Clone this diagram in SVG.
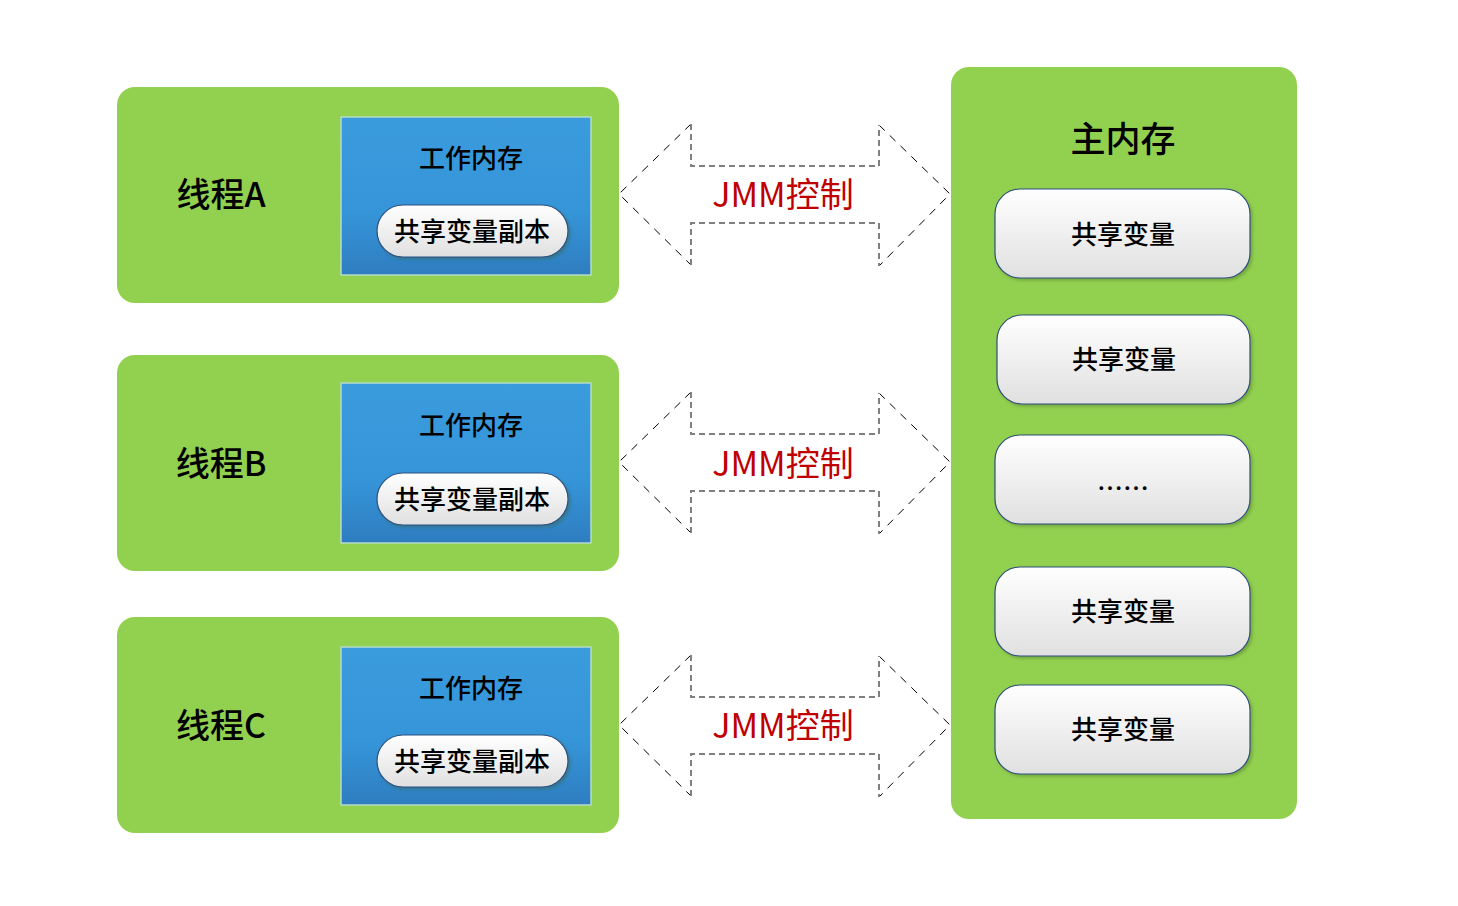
<svg xmlns="http://www.w3.org/2000/svg" width="1458" height="906" viewBox="0 0 1458 906">
<style>
.green{fill:#92D050;}
.blue{fill:url(#gBlue);stroke:#B4DCC8;stroke-width:1.5;}
.pill{fill:url(#gWhite);stroke:#2F4F7F;stroke-width:1.2;filter:url(#sh);}
.t{font-family:"Noto Sans CJK SC","Noto Sans",sans-serif;fill:#000;text-anchor:middle;dominant-baseline:central;}
.thr{font-size:34px;font-weight:500;}
.wm{font-size:26px;font-weight:500;}
.cp{font-size:26px;font-weight:500;}
.sv{font-size:26px;font-weight:500;}
.jmm{font-family:"Noto Sans CJK SC","Noto Sans",sans-serif;font-size:34px;fill:#C00000;text-anchor:middle;dominant-baseline:central;}
.shaft{fill:none;stroke:#808080;stroke-width:2;stroke-dasharray:6,4;}
.head{fill:none;stroke:#000;stroke-width:1;stroke-dasharray:8,7;}
</style>
<defs>
<linearGradient id="gBlue" x1="0" y1="0" x2="0" y2="1">
<stop offset="0" stop-color="#3A9BDD"/>
<stop offset="0.6" stop-color="#3595D8"/>
<stop offset="1" stop-color="#2E7DC0"/>
</linearGradient>
<linearGradient id="gWhite" x1="0" y1="0" x2="0" y2="1">
<stop offset="0" stop-color="#FFFFFF"/>
<stop offset="1" stop-color="#E0E0E0"/>
</linearGradient>
<filter id="sh" x="-10%" y="-10%" width="125%" height="135%">
<feDropShadow dx="2" dy="2" stdDeviation="1.5" flood-color="#3A5A20" flood-opacity="0.35"/>
</filter>
</defs>

<g id="threadA">
<rect class="green" x="117" y="87" width="502" height="216" rx="18"/>
<text class="t thr" x="221" y="192">线程A</text>
<rect class="blue" x="341" y="117" width="250" height="158"/>
<text class="t wm" x="471" y="156">工作内存</text>
<rect class="pill" x="377" y="205" width="191" height="52" rx="26"/>
<text class="t cp" x="472" y="229">共享变量副本</text>
</g>

<g id="threadB">
<rect class="green" x="117" y="355" width="502" height="216" rx="18"/>
<text class="t thr" x="221" y="461">线程B</text>
<rect class="blue" x="341" y="383" width="250" height="160"/>
<text class="t wm" x="471" y="423">工作内存</text>
<rect class="pill" x="377" y="473" width="191" height="52" rx="26"/>
<text class="t cp" x="472" y="497">共享变量副本</text>
</g>

<g id="threadC">
<rect class="green" x="117" y="617" width="502" height="216" rx="18"/>
<text class="t thr" x="221" y="723">线程C</text>
<rect class="blue" x="341" y="647" width="250" height="158"/>
<text class="t wm" x="471" y="686">工作内存</text>
<rect class="pill" x="377" y="735" width="191" height="52" rx="26"/>
<text class="t cp" x="472" y="759">共享变量副本</text>
</g>

<g id="mainMemory">
<rect class="green" x="951" y="67" width="346" height="752" rx="18"/>
<text class="t" x="1123" y="136" font-size="35" font-weight="500">主内存</text>
<rect class="pill" x="995" y="189" width="255" height="89" rx="25"/>
<text class="t sv" x="1123" y="232">共享变量</text>
<rect class="pill" x="997" y="315" width="253" height="89" rx="25"/>
<text class="t sv" x="1124" y="357">共享变量</text>
<rect class="pill" x="995" y="435" width="255" height="89" rx="25"/>
<text class="t sv" x="1123" y="486">……</text>
<rect class="pill" x="995" y="567" width="255" height="89" rx="25"/>
<text class="t sv" x="1123" y="609">共享变量</text>
<rect class="pill" x="995" y="685" width="255" height="89" rx="25"/>
<text class="t sv" x="1123" y="727">共享变量</text>
</g>

<g id="connectors">
<g id="arrowA">
<path class="head" d="M691,124 L619,194 L691,265"/>
<path class="head" d="M879,125 L950,194 L879,266"/>
<path class="shaft" d="M691,124 V166 H879 V125"/>
<path class="shaft" d="M691,265 V223 H879 V266"/>
<text class="jmm" x="783" y="192">JMM控制</text>
</g>
<g id="arrowB">
<path class="head" d="M691,392 L619,462 L691,533"/>
<path class="head" d="M879,393 L950,462 L879,534"/>
<path class="shaft" d="M691,392 V434 H879 V393"/>
<path class="shaft" d="M691,533 V491 H879 V534"/>
<text class="jmm" x="783" y="461">JMM控制</text>
</g>
<g id="arrowC">
<path class="head" d="M691,655 L619,725 L691,796"/>
<path class="head" d="M879,656 L950,725 L879,797"/>
<path class="shaft" d="M691,655 V697 H879 V656"/>
<path class="shaft" d="M691,796 V754 H879 V797"/>
<text class="jmm" x="783" y="723">JMM控制</text>
</g>
</g>
</svg>
